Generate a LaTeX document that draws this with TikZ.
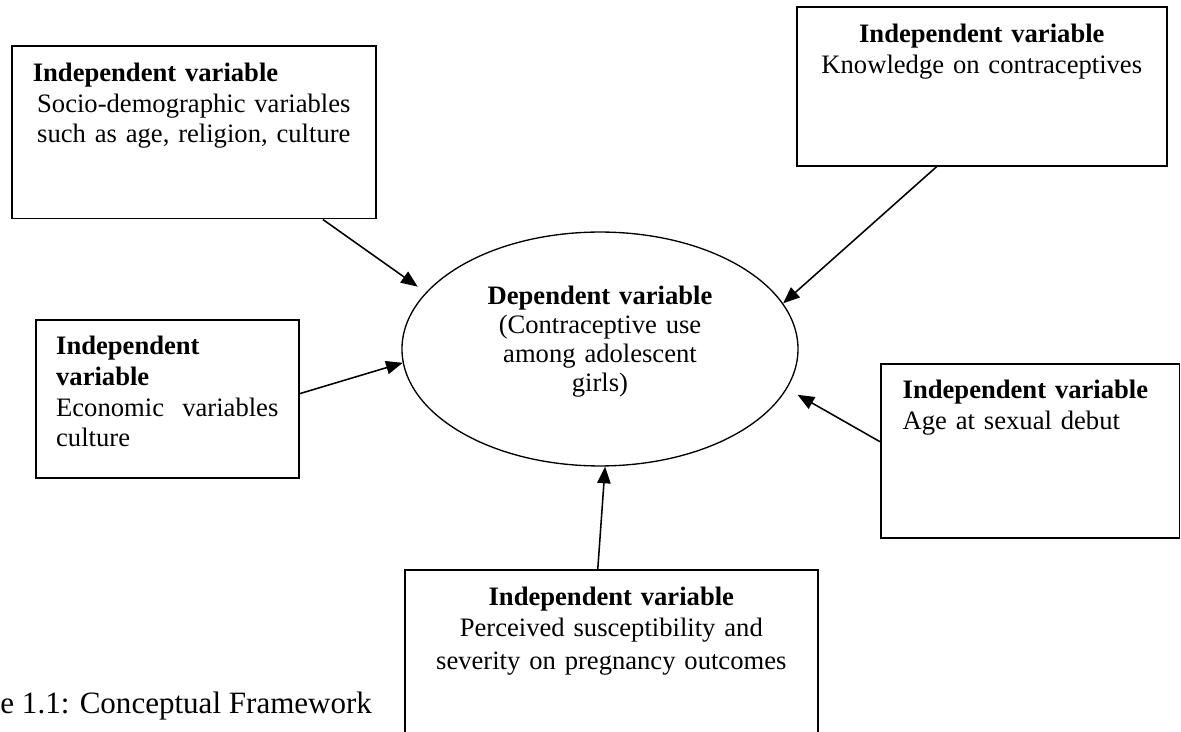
\documentclass[tikz,border=0pt]{standalone}
\usepackage{fontspec}
\setmainfont{Liberation Serif}
\usepackage{tikz}
\usetikzlibrary{positioning, arrows.meta, shapes.geometric}

\begin{document}
\begin{tikzpicture}[
    x=0.451pt, y=-0.451pt,
    every node/.style={font=\fontsize{12}{13.8}\selectfont},
    varbox/.style={draw, line width=0.7pt, anchor=north west, inner ysep=0pt},
    link/.style={draw, line width=0.7pt, -{Triangle[length=7.5pt, width=6pt]}}
]
\useasboundingbox (0,0) rectangle (1181,732);
\clip (0,0) rectangle (1181,732);

% dependent variable in the middle
\node[draw, ellipse, line width=0.6pt, minimum width=178.6pt, minimum height=105.5pt, inner sep=0pt,
      text width=120pt, align=center, text height=8.5pt, text depth=49pt,
      font=\fontsize{12}{13.1}\selectfont] (dv) at (600,349)
    {\textbf{Dependent variable}\\ (Contraceptive use\\ among adolescent\\ girls)};

% independent variables
\node[varbox, align=center, inner xsep=9.5pt, text width=145.2pt, text height=16.2pt, text depth=61.8pt] (soc) at (11,45)
    {\makebox[\linewidth][l]{\textbf{Independent variable}}\\ Socio-demographic variables\\ such as age, religion, culture};
\node[varbox, inner xsep=9.2pt, text width=100.2pt, text height=15.8pt, text depth=55.5pt] (eco) at (35,319)
    {\textbf{Independent\\ variable}\\ Economic\hfill variables\\ culture};
\node[varbox, align=center, inner xsep=5pt, text width=156.9pt, text height=16.2pt, text depth=55.5pt] (know) at (796,6)
    {\textbf{Independent variable}\\ Knowledge on contraceptives};
\node[varbox, align=left, inner xsep=9.9pt, text width=115pt, text height=15.8pt, text depth=62.7pt] (age) at (880,363)
    {\textbf{Independent variable}\\ Age at sexual debut};
\node[varbox, align=center, inner xsep=5pt, text width=176.3pt, text height=16.2pt, text depth=70pt] (perc) at (404,569)
    {\textbf{Independent variable}\\ Perceived susceptibility and\\[1.3pt] severity on pregnancy outcomes};

\node[anchor=base west, inner sep=0pt, font=\fontsize{14}{16}\selectfont] (cap) at (0,714)
    {e 1.1: Conceptual Framework};

% arrows into the ellipse
\draw[link, shorten >=4.5pt] ([xshift=58.2pt]soc.south) -- (dv.162);
\draw[link] ([yshift=2.3pt]eco.east) -- (dv.184);
\draw[link] ([xshift=-20.3pt]know.south) -- (dv.14.5);
\draw[link, shorten >=5.5pt] ([yshift=4.1pt]age.west) -- (dv.-12);
\draw[link] ([xshift=-6.1pt]perc.north) -- ([xshift=2.3pt]dv.south);
\end{tikzpicture}
\end{document}
